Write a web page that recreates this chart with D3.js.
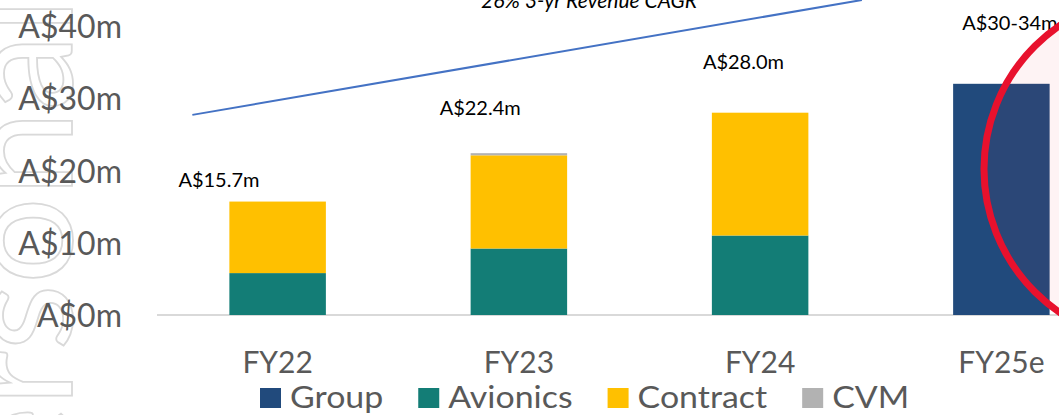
<!DOCTYPE html>
<html>
<head>
<meta charset="utf-8">
<script src="https://cdn.jsdelivr.net/npm/d3@7"></script>
<style>
  body { margin: 0; background: #fff; }
  svg { display: block; font-family: Lato, "Open Sans", sans-serif; }
</style>
</head>
<body>
<script>
// chart data
const years = ["FY22", "FY23", "FY24", "FY25e"];
const seriesNames = ["Group", "Avionics", "Contract", "CVM"];
const group    = [0, 0, 0, 32.0];
const avionics = [5.8, 9.2, 11.0, 0];
const contract = [9.9, 12.9, 17.0, 0];
const cvm      = [0, 0.3, 0, 0];
const totalLabels = ["A$15.7m", "A$22.4m", "A$28.0m", "A$30-34m"];
const yTicks = [0, 10, 20, 30, 40];
const cagrText = "26% 3-yr Revenue CAGR";

const width = 1059, height = 415;
const colors = { Group: "#214a7c", Avionics: "#137d76", Contract: "#ffc000", CVM: "#b2b2b2" };

let xScale = d3.scaleBand()
  .domain(years)
  .range([157, 1122])
  .paddingInner(0.6)
  .paddingOuter(0.3);

let yScale = d3.scaleLinear()
  .domain([0, 40])
  .range([315, 26]);

let svg = d3.select("body").append("svg")
  .attr("width", width)
  .attr("height", height);

// faint watermark on the left edge
svg.append("text")
  .attr("transform", "translate(72,-2) rotate(-90)")
  .attr("text-anchor", "end")
  .attr("font-size", 154)
  .attr("fill", "none")
  .attr("stroke", "#d9d9d9")
  .attr("stroke-width", 1.8)
  .text("Personal");

// baseline
svg.append("line")
  .attr("x1", 157).attr("x2", width)
  .attr("y1", yScale(0)).attr("y2", yScale(0))
  .attr("stroke", "#d9d9d9")
  .attr("stroke-width", 2);

// stacked bars
const rows = years.map((y, i) => ({
  year: y, Group: group[i], Avionics: avionics[i], Contract: contract[i], CVM: cvm[i]
}));
const stack = d3.stack().keys(seriesNames)(rows);

svg.append("g").selectAll("g")
  .data(stack)
  .enter().append("g")
  .attr("fill", d => colors[d.key])
  .selectAll("rect")
  .data(d => d)
  .enter().append("rect")
  .attr("x", d => xScale(d.data.year))
  .attr("width", xScale.bandwidth())
  .attr("y", d => yScale(d[1]))
  .attr("height", d => yScale(d[0]) - yScale(d[1]));

// y axis labels
let yAxis = d3.axisLeft(yScale)
  .tickValues(yTicks)
  .tickSize(0)
  .tickPadding(0)
  .tickFormat(d => "A$" + d + "m");
let yg = svg.append("g")
  .attr("transform", "translate(122,0)")
  .call(yAxis);
yg.select(".domain").remove();
yg.selectAll("text")
  .attr("font-family", "Lato, sans-serif")
  .attr("font-size", 32)
  .attr("fill", "#595959")
  .attr("dy", "0.36em");

// x axis labels
let xAxis = d3.axisBottom(xScale).tickSize(0).tickPadding(0);
let xg = svg.append("g")
  .attr("transform", "translate(0,373)")
  .call(xAxis);
xg.select(".domain").remove();
xg.selectAll("text")
  .attr("font-family", "Lato, sans-serif")
  .attr("font-size", 30)
  .attr("fill", "#595959")
  .attr("dy", 0)
  .attr("y", 0);

// total labels (hand placed in the original, nudged from the bars)
const labelNudge = [[-51, 18.7], [-31, 28.6], [-9, 35.0], [9, 40.4]];
svg.append("g").selectAll("text")
  .data(totalLabels)
  .enter().append("text")
  .attr("x", (d, i) => xScale(years[i]) + labelNudge[i][0])
  .attr("y", (d, i) => yScale(labelNudge[i][1]))
  .attr("dy", "0.35em")
  .attr("font-size", 20)
  .attr("fill", "#000")
  .text(d => d);

// CAGR trend line and caption
const lineStart = [xScale("FY22") - 37, yScale(27.7)];
const lineEnd = [xScale("FY24") + 150, yScale(43.6)];
svg.append("line")
  .attr("x1", lineStart[0]).attr("y1", lineStart[1])
  .attr("x2", lineEnd[0]).attr("y2", lineEnd[1])
  .attr("stroke", "#4472c4")
  .attr("stroke-width", 2);
svg.append("text")
  .attr("x", 589)
  .attr("y", 8)
  .attr("text-anchor", "middle")
  .attr("font-style", "italic")
  .attr("font-size", 21)
  .attr("fill", "#000")
  .text(cagrText);

// red highlight circle round the estimate
svg.append("circle")
  .attr("cx", 1158)
  .attr("cy", 169)
  .attr("r", 174)
  .attr("fill", "rgba(232,17,35,0.05)")
  .attr("stroke", "#e8112d")
  .attr("stroke-width", 7);

// legend (text in the original is a little wider than Lato, so stretch it)
const stretch = 1.13;
let legend = svg.append("g").attr("transform", "translate(260,388)");
let lx = 0;
seriesNames.forEach(name => {
  let item = legend.append("g").attr("transform", `translate(${lx},0)`);
  item.append("rect")
    .attr("width", 21).attr("height", 20)
    .attr("fill", colors[name]);
  let t = item.append("text")
    .attr("transform", `translate(30,20) scale(${stretch},1)`)
    .attr("font-size", 30)
    .attr("fill", "#595959")
    .text(name);
  lx += 30 + t.node().getComputedTextLength() * stretch + 35;
});
</script>
</body>
</html>
